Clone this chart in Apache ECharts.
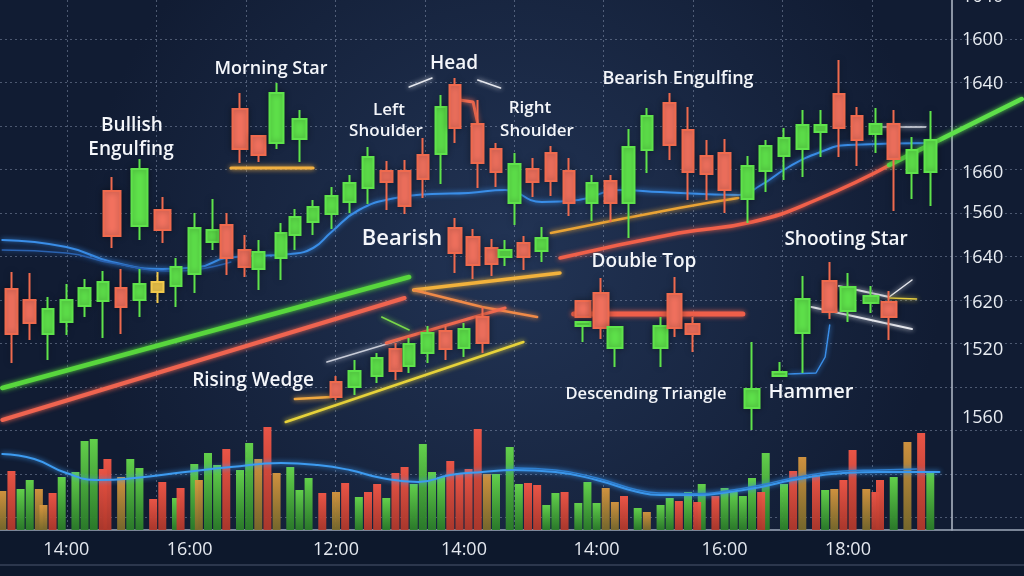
<!DOCTYPE html>
<html><head><meta charset="utf-8">
<script src="https://cdn.jsdelivr.net/npm/echarts@6/dist/echarts.min.js"></script>
<style>html,body{margin:0;padding:0;background:#14213a;}#chart{width:1024px;height:576px;}</style>
</head><body><div id="chart"></div>
<script>
// ---------- data ----------
const N_SLOTS = 224; // time slots across the chart
const xTickLabels = ['14:00','16:00','12:00','14:00','14:00','16:00','18:00'];
const xTickSlots  = [14, 41, 73, 101, 130, 158, 185];
const yTickLabels = ['1640','1600','1640','1660','1560','1640','1620','1520','1560'];
const yTickPrices = [1933, 1890, 1846, 1757, 1717, 1672, 1627, 1580, 1512];

// candles: [slot, open, close, low, high]
const mainCandles = [
 [2,1641,1596,1567,1658],[6,1630,1607,1590,1657],[10,1596,1621,1570,1633],[14,1608,1630,1595,1646],
 [18,1624,1642,1613,1651],[22,1629,1648,1592,1659],[26,1642,1623,1596,1661],[30,1630,1646,1613,1661],
 [38,1644,1663,1623,1672],[42,1656,1702,1637,1717],[46,1688,1700,1680,1731],[49,1705,1672,1655,1717],
 [53,1680,1663,1653,1695],[56,1661,1678,1640,1690],[61,1672,1697,1650,1707],[64,1695,1713,1680,1721],
 [68,1708,1723,1695,1730],[72,1716,1734,1701,1743],[76,1728,1747,1717,1755],[80,1742,1773,1726,1783],
 [84,1759,1748,1720,1769],[88,1759,1724,1716,1770],[92,1775,1751,1732,1792],[96,1776,1823,1746,1835],
 [99,1845,1802,1787,1852],[104,1806,1767,1742,1830],[108,1781,1758,1743,1787],[112,1727,1766,1705,1777],
 [116,1761,1748,1733,1772],[120,1777,1749,1734,1784],[124,1759,1727,1714,1772],[129,1727,1747,1709,1755],
 [133,1749,1727,1708,1755],[137,1727,1783,1692,1801],[141,1780,1814,1757,1822],[146,1827,1785,1770,1837],
 [150,1800,1758,1730,1823],[154,1774,1756,1730,1790],[158,1777,1740,1717,1791],[163,1731,1764,1707,1774],
 [167,1759,1784,1738,1790],[171,1774,1792,1750,1802],[175,1781,1805,1753,1820],[179,1798,1805,1773,1820],
 [183,1836,1802,1773,1870],[187,1814,1790,1764,1823],[191,1796,1806,1777,1822],[195,1806,1771,1719,1820],
 [199,1757,1780,1731,1793],[203,1758,1790,1724,1819]
];
const dojiCandles = [[34,1638,1648,1627,1658]];
const bullishEngulfing = [[24,1739,1694,1682,1753],[30,1704,1761,1690,1771],[35,1720,1700,1687,1733]];
const morningStar = [[52,1821,1781,1767,1837],[56,1794,1775,1768,1794],[60,1787,1837,1781,1847],[65,1791,1811,1768,1820]];
const bearishGroup = [[99,1702,1677,1657,1712],[103,1693,1665,1651,1701],[107,1682,1666,1654,1691],
 [110,1673,1680,1664,1690],[114,1687,1673,1660,1694],[118,1679,1692,1668,1703]];
const risingWedge = [[73,1548,1533,1530,1554],[77,1543,1559,1535,1570],[82,1554,1572,1547,1577],
 [86,1581,1559,1550,1587],[89,1564,1586,1557,1592],[93,1577,1597,1567,1604],[97,1599,1581,1570,1604],
 [101,1582,1601,1573,1607],[105,1613,1587,1577,1623]];
const doubleTop = [[127,1629,1613,1613,1629],[127,1604,1608,1588,1608],[131,1637,1602,1591,1652],
 [134,1582,1603,1563,1603],[144,1582,1604,1563,1613],[147,1636,1602,1593,1653],[151,1606,1596,1578,1613]];
const hammerStar = [[164,1522,1541,1500,1588],[170,1554,1558,1554,1568],[175,1597,1631,1557,1654],
 [181,1649,1618,1611,1668],[185,1619,1643,1608,1657],[190,1627,1634,1617,1644],[194,1628,1613,1590,1639]];

// volume
const volSlots = [0,2,4,6,8,9,11,13,16,18, 20,22,23,26,28,30,33,35,38,39, 42,43,45,47,49,52,54,56,58,60,
 63,65,67,70,73,75,78,80,82,84, 86,88,90,92,94,96,98,100,102,104, 106,108,111,113,115,117,119,121,123,126,
 128,130,132,134,136,139,141,144,146,148, 150,152,153,156,158,160,162,164,166,167,
 171,173,175,178,180,182,184,186,189,191, 192,195,198,201,203];
const volValues = [390,590,410,500,410,250,370,530,580,890, 910,610,710,530,710,620,310,480,320,420,
 660,500,770,650,810,600,870,710,1030,570, 630,400,520,370,380,470,330,380,460,320,
 570,630,460,860,580,530,690,570,610,1010, 560,560,830,460,470,450,250,370,380,270,
 480,270,420,280,340,220,180,250,320,290, 380,280,460,340,420,380,340,520,380,770,
 460,590,730,550,400,410,500,800,410,380, 500,530,880,970,590];
const volDir = ('orggoorggg'+'grroggrrgr'+'goggrggoro'+'gggrorgrrg'+'rrggggrrrr'+
 'ogggrrggrg'+'ggoorgoggr'+'grgrggggrg'+'grorgorror'+'rgorg').split('');
const volMA = [[0,760],[7,710],[14,570],[21,500],[29,520],[40,580],[50,630],[61,670],[69,650],[76,600],
 [83,520],[91,480],[98,550],[105,580],[112,600],[121,580],[130,500],[139,380],[144,350],[152,350],
 [159,380],[166,430],[173,500],[184,570],[192,580],[205,580]];
const volMA2 = [[112,620],[121,600],[130,520],[139,400],[144,370],[152,362],[159,395],[166,450],[173,520],[184,590],[192,600],[200,610]];

// overlay lines: [slot, price]
const priceMA = [[0,1690],[14,1683],[24,1668],[35,1661],[43,1663],[49,1672],[63,1676],[68,1682],[72,1698],
 [78,1720],[86,1732],[94,1736],[102,1737],[110,1740],[118,1728],[126,1730],[135,1740],[144,1738],
 [161,1735],[166,1745],[172,1763],[179,1778],[185,1785],[204,1787]];
const priceMA2 = [[0,1680],[14,1677],[24,1667],[38,1659],[50,1668]];
const greenTrend = [[0,1542],[89,1653]];
const redTrend = [[0,1510],[88,1632]];
const orangeUpper = [[90,1640],[122,1657]];
const orangeLower = [[90,1640],[105,1623],[117,1613]];
const wedgeWhite = [[71,1568],[87,1590]];
const wedgeRed = [[84,1587],[110,1622]];
const wedgeYellow = [[62,1508],[114,1588]];
const wedgeOrange = [[64,1531],[72,1533]];
const wedgeGreen = [[83,1613],[89,1600]];
const orangeCurve = [[120,1697],[148,1722],[161,1732]];
const redCurve = [[122,1672],[148,1697],[164,1708],[178,1730],[195,1767]];
const greenRight = [[194,1765],[223,1831]];
const whiteRight = [[191,1803],[202,1803]];
const headLeft = [[89,1843],[94,1852]];
const headRight = [[104,1850],[109,1842]];
const headLink = [[100,1830],[103,1828],[104,1806]];
const starLower = [[177,1623],[199,1601]];
const starUpper = [[183,1644],[194,1633]];
const starDiag = [[194,1633],[199,1650]];
const starYellow = [[194,1632],[200,1631]];
const hammerBlue = [[172,1556],[178,1557],[180,1573],[181,1605]];
const doubleTopLine = [[125,1616],[162,1616]];
const morningLine = [[50,1762],[68,1762]];

// ---------- build ----------
const UP = '#5fe34b', DOWN = '#f3725f', DOWN_WICK = '#ef6a4e';
const slots = Array.from({length: N_SLOTS}, (_, i) => {
  const k = xTickSlots.indexOf(i); return k >= 0 ? xTickLabels[k] : '';
});
const yLabelMap = {}; yTickPrices.forEach((p, i) => { yLabelMap[p] = yTickLabels[i]; });

function candleSeries(data, width, up, down, downWick) {
  return {
    type: 'candlestick', xAxisIndex: 0, yAxisIndex: 0, z: 5, silent: true,
    dimensions: ['slot','open','close','low','high'],
    encode: { x: 'slot', y: ['open','close','low','high'] },
    data: data, barWidth: width,
    itemStyle: { color: up || UP, color0: down || DOWN, borderColor: up || UP,
      borderColor0: downWick || DOWN_WICK, borderWidth: 2,
      shadowBlur: 6, shadowColor: 'rgba(0,0,0,0.35)' }
  };
}
function lineSeries(data, color, width, extra) {
  return Object.assign({
    type: 'line', xAxisIndex: 0, yAxisIndex: 0, data: data, symbol: 'none', silent: true, z: 3,
    lineStyle: { color: color, width: width, shadowBlur: 5, shadowColor: color, cap: 'round' }
  }, extra || {});
}
const volColors = {
  g: ['#66d84c', '#2b7d29'], r: ['#f45747', '#b0382b'], o: ['#d8973f', '#7a6a2b']
};
function volSeries(dir) {
  const d = [];
  volSlots.forEach((s, i) => { if (volDir[i] === dir) d.push([s, volValues[i]]); });
  return {
    type: 'bar', xAxisIndex: 0, yAxisIndex: 2, data: d, barWidth: 8, barGap: '-100%', z: 2, silent: true,
    itemStyle: { color: new echarts.graphic.LinearGradient(0, 0, 0, 1,
      [{offset: 0, color: volColors[dir][0]}, {offset: 1, color: volColors[dir][1]}]), opacity: 0.95 }
  };
}

const gridLine = { show: true, lineStyle: { color: 'rgba(175,190,215,0.38)', type: [2, 3], width: 1 } };
const FONT = '"Open Sans", "Noto Sans", sans-serif';

function txt(text, x, y, size) {
  return { type: 'text', x: x, y: y, z: 100, silent: true,
    style: { text: text, fill: '#f4f6fa', font: '600 ' + size + 'px ' + FONT,
      align: 'center', verticalAlign: 'middle', textAlign: 'center', textVerticalAlign: 'middle',
      shadowBlur: 6, shadowColor: 'rgba(0,0,0,0.7)', shadowOffsetY: 1 } };
}

const option = {
  animation: false,
  backgroundColor: { type: 'radial', x: 0.5, y: 0.45, r: 0.75,
    colorStops: [{offset: 0, color: '#223455'}, {offset: 1, color: '#111c33'}] },
  grid: [
    { left: 0, right: 0, top: -4, bottom: 46, containLabel: false, outerBoundsMode: 'none' },
    { left: 0, right: 0, top: 39, height: 478.5, containLabel: false, outerBoundsMode: 'none' },
    { left: 67, width: 805, top: 0, bottom: 46, containLabel: false, outerBoundsMode: 'none' }
  ],
  xAxis: [
    { type: 'category', gridIndex: 0, data: slots, boundaryGap: true,
      axisLine: { show: true, lineStyle: { color: '#9ea8ba', width: 1.5 } },
      axisTick: { show: false }, splitLine: { show: false },
      axisLabel: { interval: 0, color: '#e4e8ef', fontSize: 18, fontFamily: FONT, margin: 11 } },
    { type: 'value', gridIndex: 1, min: 0, max: 1, show: false },
    { type: 'value', gridIndex: 2, min: 0, max: 9, interval: 1,
      axisLine: { show: false }, axisTick: { show: false }, axisLabel: { show: false }, splitLine: gridLine }
  ],
  yAxis: [
    { type: 'value', gridIndex: 0, min: 1400, max: 1934, show: false },
    { type: 'value', gridIndex: 0, min: 1400, max: 1934, interval: 1, position: 'right', offset: -72,
      axisLine: { show: true, lineStyle: { color: '#b4bccb', width: 1.5 } },
      axisTick: { show: false }, splitLine: { show: false },
      axisLabel: { color: '#e8ecf2', fontSize: 18, fontFamily: FONT, margin: 10,
        formatter: v => yLabelMap[Math.round(v)] || '' } },
    { type: 'value', gridIndex: 0, min: 0, max: 5340, show: false },
    { type: 'value', gridIndex: 1, min: 0, max: 11, interval: 1, inverse: true,
      axisLine: { show: false }, axisTick: { show: false }, axisLabel: { show: false }, splitLine: gridLine },
    { type: 'value', gridIndex: 2, min: 0, max: 1, show: false }
  ],
  graphic: [
    { type: 'rect', z: -10, silent: true, shape: { x: 0, y: 531, width: 1024, height: 45 },
      style: { fill: '#0d182c' } },
    { type: 'line', z: -9, silent: true, shape: { x1: 0, y1: 565, x2: 1024, y2: 565 },
      style: { stroke: 'rgba(150,165,190,0.45)', lineWidth: 1 } },
    txt('Bullish', 132, 126, 19), txt('Engulfing', 131, 150, 19),
    txt('Morning Star', 271, 69, 18),
    txt('Head', 454, 64, 19),
    txt('Left', 389, 110, 17), txt('Shoulder', 386, 131, 17),
    txt('Right', 530, 108, 17), txt('Shoulder', 537, 131, 17),
    txt('Bearish Engulfing', 678, 79, 18),
    txt('Bearish', 402, 239, 22),
    txt('Double Top', 644, 262, 19),
    txt('Shooting Star', 846, 240, 19),
    txt('Rising Wedge', 253, 381, 19),
    txt('Descending Triangle', 646, 394, 16.5),
    txt('Hammer', 811, 392, 20)
  ],
  series: [
    volSeries('g'), volSeries('r'), volSeries('o'),
    lineSeries(volMA, '#3d9bf0', 2, { yAxisIndex: 2, smooth: true }),
    lineSeries(volMA2, '#2f7fd0', 1.5, { yAxisIndex: 2, smooth: true }),
    lineSeries(priceMA, '#3a8ee8', 2, { smooth: true }),
    lineSeries(priceMA2, '#2a62b0', 1.5, { smooth: true }),
    lineSeries(greenTrend, '#58d63d', 4.5),
    lineSeries(redTrend, '#ef6450', 4),
    lineSeries(orangeUpper, '#f2b23c', 3.5),
    lineSeries(orangeLower, '#f08a48', 2.5),
    lineSeries(wedgeWhite, '#c8ccd8', 1.5),
    lineSeries(wedgeRed, '#f06a50', 3),
    lineSeries(wedgeYellow, '#e6d23a', 2.5),
    lineSeries(wedgeOrange, '#f0a840', 2.5),
    lineSeries(wedgeGreen, '#7ad84a', 1.5),
    lineSeries(orangeCurve, '#e9a335', 2.5, { smooth: true }),
    lineSeries(redCurve, '#f0604a', 3.5, { smooth: true }),
    lineSeries(greenRight, '#5ee04a', 4.5),
    lineSeries(whiteRight, '#d8dce4', 1.5),
    lineSeries(headLeft, '#e6e8ee', 1.5),
    lineSeries(headRight, '#e6e8ee', 1.5),
    lineSeries(headLink, '#f06a50', 3),
    lineSeries(starLower, '#e4e6ec', 2),
    lineSeries(starUpper, '#e4e6ec', 2),
    lineSeries(starDiag, '#e4e6ec', 1.5),
    lineSeries(starYellow, '#e8d040', 1.5),
    lineSeries(hammerBlue, '#3a8ee8', 1.5),
    lineSeries(doubleTopLine, '#ef5f4a', 5),
    lineSeries(morningLine, '#f2b040', 3),
    candleSeries(mainCandles, 12),
    candleSeries(dojiCandles, 12, '#f2c94c', '#f2c94c', '#e8a040'),
    candleSeries(bullishEngulfing, 17),
    candleSeries(morningStar, 15),
    candleSeries(bearishGroup, 13),
    candleSeries(risingWedge, 12),
    candleSeries(doubleTop, 15),
    candleSeries(hammerStar, 15)
  ]
};
const chart = echarts.init(document.getElementById('chart'), null, { renderer: 'canvas' });
chart.setOption(option);
</script></body></html>
